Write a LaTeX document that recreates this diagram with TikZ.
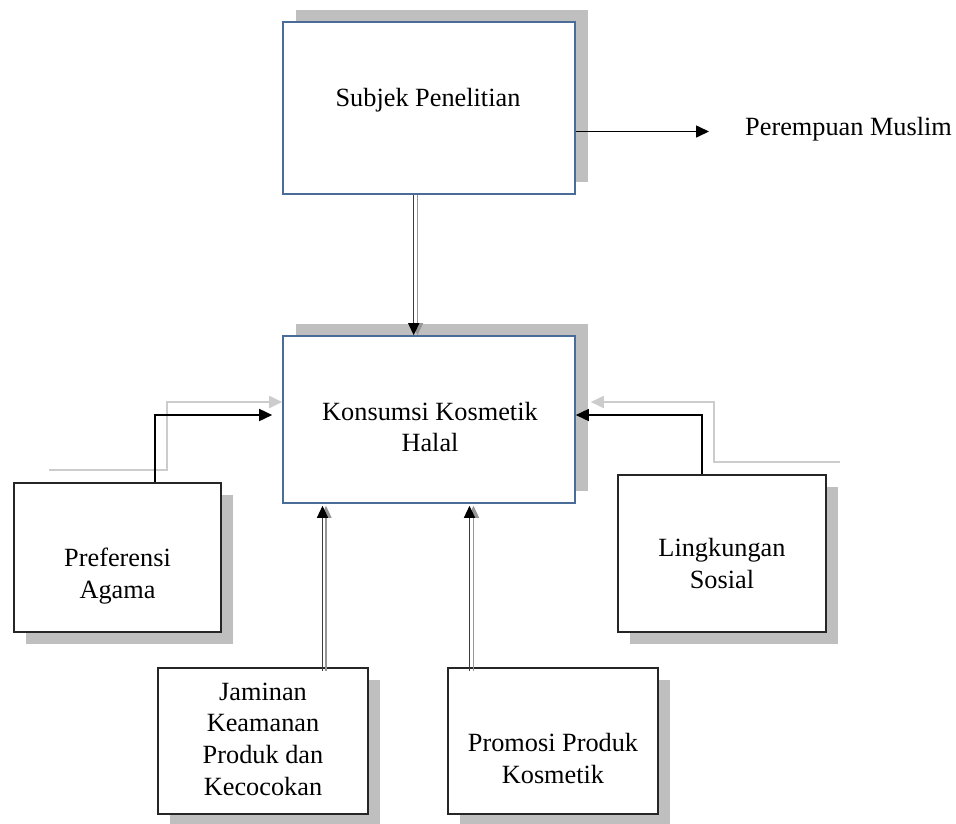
\documentclass[tikz,border=0pt]{standalone}
\usepackage{fontspec}
\setmainfont{Liberation Serif}
\usetikzlibrary{arrows.meta,shadows}
\definecolor{boxblue}{RGB}{74,108,152}
\definecolor{shadowc}{RGB}{191,191,191}
\definecolor{lightarr}{RGB}{204,204,204}
\definecolor{dblA}{RGB}{60,60,60}
\definecolor{dblB}{RGB}{150,150,150}
\begin{document}
\begin{tikzpicture}[x=1pt,y=-1pt,
  txt/.style={font=\fontsize{26.3}{31.7}\selectfont, align=center, inner sep=0pt},
  topbox/.style={draw=boxblue, line width=1.6pt, fill=white, inner sep=0pt,
    drop shadow={fill=shadowc, opacity=1, shadow xshift=13pt, shadow yshift=12pt}},
  botbox/.style={draw=black!85, line width=1.8pt, fill=white, inner sep=0pt,
    drop shadow={fill=shadowc, opacity=1, shadow xshift=12pt, shadow yshift=-12pt}},
  blkarr/.style={draw=black, line width=1.6pt, -{Triangle[length=13pt,width=12pt]}},
  grayarr/.style={draw=lightarr, line width=1.8pt, -{Triangle[length=13pt,width=12pt]}},
  dblmain/.style={draw=dblA, line width=1.4pt, -{Triangle[length=12pt,width=11pt,color=black]}},
  dblshade/.style={draw=dblB, line width=1.4pt, -{Triangle[length=12pt,width=11pt]}},
]
\useasboundingbox (0,0) rectangle (956,823);

% boxes
\node[topbox, minimum width=292pt, minimum height=172pt] (subj) at (429,108) {};
\node[topbox, minimum width=292pt, minimum height=167pt] (kons) at (429,419.5) {};
\node[botbox, minimum width=207pt, minimum height=149pt] (pref) at (117.5,557.5) {};
\node[botbox, minimum width=208pt, minimum height=157pt] (ling) at (722,553.5) {};
\node[botbox, minimum width=210pt, minimum height=146pt] (jam) at (263,741) {};
\node[botbox, minimum width=210pt, minimum height=146pt] (prom) at (553,741) {};

% texts
\node[txt, anchor=base] (subjt) at (428,106) {Subjek Penelitian};
\node[txt, anchor=base west] (pm) at (745,135) {Perempuan Muslim};
\node[txt] (konst) at (430,427) {Konsumsi Kosmetik\\Halal};
\node[txt] (preft) at (117.5,576) {Preferensi\\Agama};
\node[txt] (lingt) at (722,563.5) {Lingkungan\\Sosial};
\node[txt] (jamt) at (263,739) {Jaminan\\Keamanan\\Produk dan\\Kecocokan};
\node[txt] (promt) at (553,758.5) {Promosi Produk\\Kosmetik};

% Subjek -> Perempuan Muslim
\coordinate (pmtip) at (709,131.5);
\draw[blkarr] (subj.east |- pmtip) -- (pmtip);

% Subjek -> Konsumsi (double line)
\draw[dblshade] ([xshift=-11.5pt]subj.south) -- ([xshift=-11.5pt]kons.north);
\draw[dblmain] ([xshift=-15.3pt]subj.south) -- ([xshift=-15.3pt]kons.north);

% Jaminan -> Konsumsi
\draw[dblshade] ([xshift=63pt,yshift=-4pt]jam.north) -- ([xshift=-103pt,yshift=-2pt]kons.south);
\draw[dblmain] ([xshift=59.5pt,yshift=-4pt]jam.north) -- ([xshift=-106.5pt,yshift=-2pt]kons.south);

% Promosi -> Konsumsi
\draw[dblshade] ([xshift=-79.5pt,yshift=-4pt]prom.north) -- ([xshift=44.5pt,yshift=-2pt]kons.south);
\draw[dblmain] ([xshift=-83.5pt,yshift=-4pt]prom.north) -- ([xshift=40.5pt,yshift=-2pt]kons.south);

% Preferensi -> Konsumsi
\coordinate (gl) at (49,470);
\draw[grayarr] (gl) -- ++(118,0) |- ([yshift=17.5pt]kons.west);
\draw[blkarr] ([xshift=37.5pt]pref.north) |- ([xshift=-10pt,yshift=4.5pt]kons.west);

% Lingkungan -> Konsumsi
\coordinate (gr) at (840,462);
\draw[grayarr] (gr) -- ++(-126,0) |- ([xshift=15pt,yshift=17.5pt]kons.east);
\draw[blkarr] ([xshift=-20pt]ling.north) |- ([yshift=4.5pt]kons.east);
\end{tikzpicture}
\end{document}
